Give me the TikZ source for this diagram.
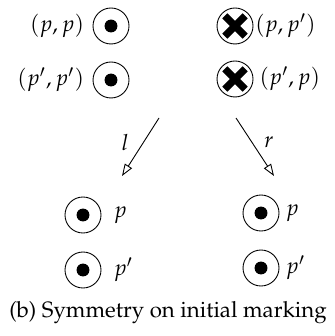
\documentclass[tikz,border=0pt]{standalone}
\usepackage[T1]{fontenc}
\usepackage{mathpazo}
\usetikzlibrary{positioning,arrows.meta}

\begin{document}
\begin{tikzpicture}[x=0.45pt,y=-0.45pt,
    place/.style={circle,draw,thin,minimum size=16.2pt,inner sep=0pt},
    token/.style={place,path picture={\fill (path picture bounding box.center) circle (2.9pt);}},
    killed/.style={place,path picture={
        \draw[line width=3.2pt]
          ([shift={(-4.6pt,-4.6pt)}]path picture bounding box.center) -- ([shift={(4.6pt,4.6pt)}]path picture bounding box.center)
          ([shift={(-4.6pt,4.6pt)}]path picture bounding box.center) -- ([shift={(4.6pt,-4.6pt)}]path picture bounding box.center);}},
    tag/.style={inner sep=0pt},
    move/.style={-{Triangle[open,length=5.4pt,width=3.8pt]}}
  ]

    \useasboundingbox (0,0) rectangle (334,336);

    % Product places, kept
    \node[token] (pp) at (111,26) {};
    \node[token] (pq) at (111,80) {};
    \node[tag,left=3.6pt of pp] {$(p,p)$};
    \node[tag,left=3.6pt of pq] {$(p',p')$};

    % Product places, removed
    \node[killed] (xpq) at (235,26) {};
    \node[killed] (xqp) at (235,79) {};
    \node[tag,right=0.6pt of xpq] {$(p,p')$};
    \node[tag,right=2.6pt of xqp] {$(p',p)$};

    % Projections
    \coordinate (lfrom) at (159,118);
    \coordinate (lto) at (122,176);
    \coordinate (rfrom) at (236,118);
    \coordinate (rto) at (274,176);
    \draw[move] (lfrom) -- node[pos=0.42,left=3pt] {$l$} (lto);
    \draw[move] (rfrom) -- node[pos=0.42,right=2pt] {$r$} (rto);

    % Left component
    \node[token] (lp) at (83,215) {};
    \node[token] (lq) at (83,270) {};
    \node[tag,right=5.4pt of lp] {$p$};
    \node[tag,right=5.4pt of lq] {$p'$};

    % Right component
    \node[token] (rp) at (261,213) {};
    \node[token] (rq) at (261,268) {};
    \node[tag,right=2.7pt of rp] {$p$};
    \node[tag,right=2.7pt of rq] {$p'$};

    % Caption
    \node (caption) at (168,313) {(b) Symmetry on initial marking};

  \end{tikzpicture}
\end{document}
